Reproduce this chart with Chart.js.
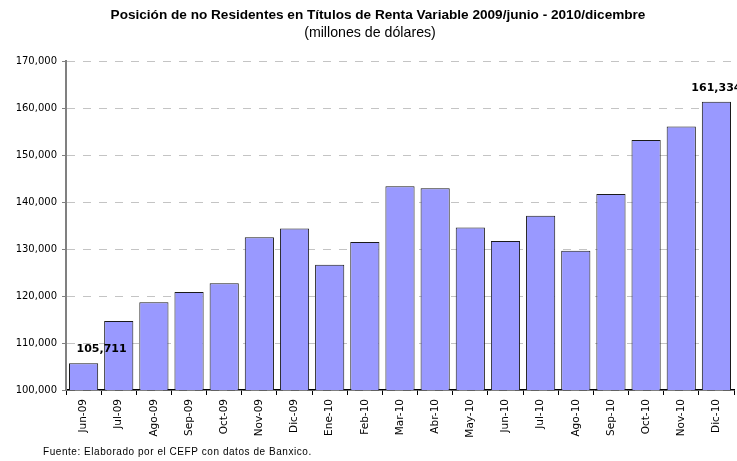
<!DOCTYPE html>
<html>
<head>
<meta charset="utf-8">
<script src="https://cdn.jsdelivr.net/npm/chart.js@4/dist/chart.umd.min.js"></script>
<style>
  html, body { margin: 0; padding: 0; background: #fff; }
  canvas { display: block; }
</style>
</head>
<body>
<canvas id="chart" width="737" height="461"></canvas>
<script>
const months = [
  "Jun-09", "Jul-09", "Ago-09", "Sep-09", "Oct-09", "Nov-09", "Dic-09",
  "Ene-10", "Feb-10", "Mar-10", "Abr-10", "May-10", "Jun-10", "Jul-10",
  "Ago-10", "Sep-10", "Oct-10", "Nov-10", "Dic-10",
];
const position = [
  105711, 114700, 118650, 120850, 122700, 132500, 134350,
  126650, 131500, 143350, 142900, 134550, 131700, 137100,
  129650, 141700, 153200, 156050, 161334,
];
// only the first and last bars carry a value label
const labelled = [0, months.length - 1];

const titleText = "Posición de no Residentes en Títulos de Renta Variable 2009/junio - 2010/dicembre";
const subtitleText = "(millones de dólares)";
const sourceText = "Fuente: Elaborado por el CEFP con datos de Banxico.";

const fmt = (v) => v.toLocaleString("en-US");

// titles, footer and the two value labels
const extras = {
  id: "extras",
  afterDraw(chart) {
    const ctx = chart.ctx;
    ctx.save();
    ctx.fillStyle = "#000";
    ctx.textAlign = "center";
    ctx.textBaseline = "middle";
    ctx.font = "bold 13.6px 'Liberation Sans', Arial, sans-serif";
    ctx.fillText(titleText, 378, 15);
    ctx.font = "14.2px 'Liberation Sans', Arial, sans-serif";
    ctx.fillText(subtitleText, 370, 33);

    ctx.textAlign = "left";
    ctx.font = "10px 'Liberation Sans', Arial, sans-serif";
    if ("letterSpacing" in ctx) ctx.letterSpacing = "0.55px";
    ctx.fillText(sourceText, 43, 452);
    if ("letterSpacing" in ctx) ctx.letterSpacing = "0px";

    const meta = chart.getDatasetMeta(0);
    ctx.font = "bold 11px 'DejaVu Sans', Verdana, sans-serif";
    labelled.forEach((i) => {
      const bar = meta.data[i];
      const shift = i === 0 ? 18 : 0;
      ctx.textAlign = "center";
      ctx.fillText(fmt(position[i]), bar.x + shift, bar.y - 14);
    });
    ctx.restore();
  },
};

new Chart(document.querySelector("#chart"), {
  type: "bar",
  data: {
    labels: months,
    datasets: [
      {
        data: position,
        backgroundColor: "#9999ff",
        borderColor: "#1a1a1a",
        borderWidth: 1,
        borderSkipped: false,
        categoryPercentage: 1,
        barPercentage: 0.83,
      },
    ],
  },
  options: {
    responsive: false,
    animation: false,
    devicePixelRatio: 1,
    layout: { padding: { top: 61, right: 3, left: 0, bottom: 0 } },
    plugins: {
      legend: { display: false },
      tooltip: { enabled: false },
    },
    scales: {
      x: {
        grid: {
          offset: true,
          drawOnChartArea: false,
          tickLength: 5,
          tickColor: "#000",
        },
        border: { color: "#000", width: 1.5 },
        ticks: {
          minRotation: 90,
          maxRotation: 90,
          padding: 4,
          color: "#000",
          font: { family: "'DejaVu Sans', Verdana, sans-serif", size: 10.5 },
        },
        afterFit(scale) {
          scale.height = 71;
        },
      },
      y: {
        min: 100000,
        max: 170000,
        ticks: {
          stepSize: 10000,
          padding: 5,
          color: "#000",
          font: { family: "'DejaVu Sans', Verdana, sans-serif", size: 10 },
          callback: (v) => fmt(v),
        },
        grid: {
          color: "#c4c4c4",
          tickColor: "#808080",
          tickLength: 4,
        },
        border: { color: "#808080", width: 2, dash: [8, 8] },
        afterFit(scale) {
          scale.width = 66;
        },
      },
    },
  },
  plugins: [extras],
});
</script>
</body>
</html>
